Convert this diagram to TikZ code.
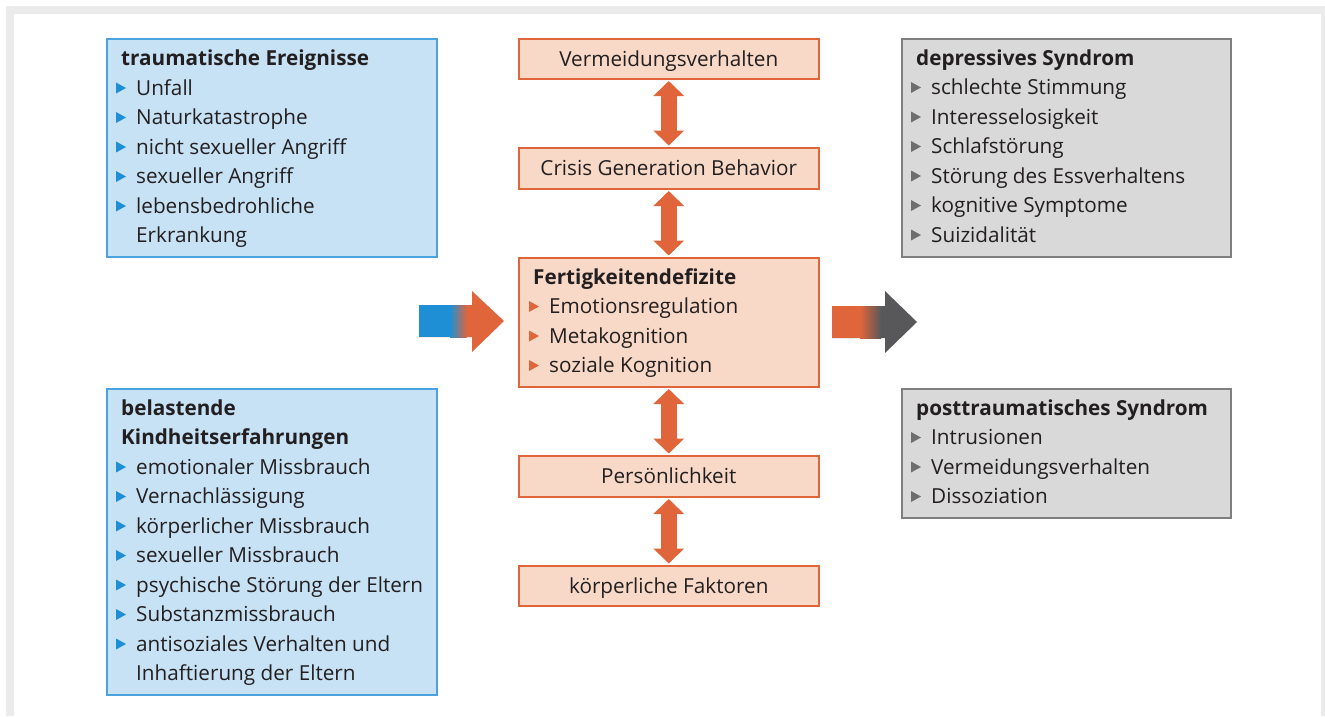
\documentclass[tikz,border=0pt]{standalone}
\usepackage{fontspec}
\setmainfont{Open Sans}
\usetikzlibrary{arrows.meta}
\definecolor{bfill}{HTML}{C7E1F5}
\definecolor{bline}{HTML}{4AA3DF}
\definecolor{bbul}{HTML}{1E8FD5}
\definecolor{ofill}{HTML}{F8D9C7}
\definecolor{oline}{HTML}{E0653A}
\definecolor{gfill}{HTML}{D9D9D9}
\definecolor{gline}{HTML}{7F7F7F}
\definecolor{gbul}{HTML}{6E6E6E}
\definecolor{darr}{HTML}{58585A}
\definecolor{framec}{HTML}{EBEBEB}
\definecolor{txtc}{HTML}{231F20}
\newcommand\bul[5]{%
  \fill[#4] (#2-20,#3-12.5) -- (#2-20,#3-1.5) -- (#2-10,#3-7) -- cycle;
  \node[txt,anchor=base west] (#1) at (#2,#3) {#5};}
\newcommand\ttl[4]{\node[txt,anchor=base west,font=\fontsize{20.7}{24}\selectfont\bfseries] (#1) at (#2,#3) {#4};}
\begin{document}
\begin{tikzpicture}[x=1pt,y=-1pt,
  txt/.style={inner sep=0pt,font=\fontsize{20.7}{24}\selectfont,text=txtc},
  bluebox/.style={draw=bline,fill=bfill,line width=1.5pt,anchor=north west,inner sep=0pt},
  orbox/.style={draw=oline,fill=ofill,line width=1.5pt,anchor=north west,inner sep=0pt,font=\fontsize{20.7}{24}\selectfont,text=txtc,text height=14.5pt,text depth=0pt},
  grbox/.style={draw=gline,fill=gfill,line width=1.5pt,anchor=north west,inner sep=0pt},
  dbl/.style={draw=oline,line width=16pt,{Triangle[width=30pt,length=15pt]}-{Triangle[width=30pt,length=15pt]},shorten <=1.5pt,shorten >=1.5pt}]
\useasboundingbox (0,0) rectangle (1325,716);
\fill[framec] (6,6) rectangle (1325,716);
\fill[white] (14,14) rectangle (1321,716);

% left boxes
\node[bluebox,minimum width=330pt,minimum height=218pt] (trauma) at (106,38) {};
\node[bluebox,minimum width=330pt,minimum height=306pt] (kind) at (106,388) {};
% center boxes
\node[orbox,minimum width=300pt,minimum height=40pt] (verm) at (518,38) {Vermeidungsverhalten};
\node[orbox,minimum width=300pt,minimum height=41pt] (crisis) at (518,147) {Crisis Generation Behavior};
\node[orbox,minimum width=300pt,minimum height=129pt] (fert) at (518,257) {};
\node[orbox,minimum width=300pt,minimum height=41pt] (pers) at (518,455) {Persönlichkeit};
\node[orbox,minimum width=300pt,minimum height=40pt] (koerp) at (518,565) {körperliche Faktoren};
% right boxes
\node[grbox,minimum width=329pt,minimum height=218pt] (depr) at (901,38) {};
\node[grbox,minimum width=329pt,minimum height=129pt] (ptbs) at (901,388) {};

% double arrows
\draw[dbl] (verm.south) -- (crisis.north);
\draw[dbl] (crisis.south) -- (fert.north);
\draw[dbl] (fert.south) -- (pers.north);
\draw[dbl] (pers.south) -- (koerp.north);

% left big arrow
\coordinate (la) at (419,321);
\fill[oline] (la) ++(0,-16) -- (472,305) -- (472,291) -- (504,321) -- (472,352) -- (472,337) -- (419,337) -- cycle;
\fill[bbul] (419,305) rectangle (451,337);
\shade[left color=bbul,right color=oline] (450,305) rectangle (467,337);
% right big arrow
\coordinate (ra) at (832,322);
\fill[darr] (ra) ++(0,-16) -- (885,306) -- (885,291) -- (917,322) -- (885,353) -- (885,338) -- (832,338) -- cycle;
\fill[oline] (832,306) rectangle (861,338);
\shade[left color=oline,right color=darr] (860,306) rectangle (881,338);

% texts left 1
\ttl{t1}{121}{65}{traumatische Ereignisse}
\bul{a1}{136}{95}{bbul}{Unfall}
\bul{a2}{136}{124.5}{bbul}{Naturkatastrophe}
\bul{a3}{136}{154}{bbul}{nicht sexueller Angriff}
\bul{a4}{136}{183.5}{bbul}{sexueller Angriff}
\bul{a5}{136}{213}{bbul}{lebensbedrohliche}
\node[txt,anchor=base west] (a6) at (136,242) {Erkrankung};
% texts left 2
\ttl{t2a}{121}{415}{belastende}
\ttl{t2b}{121}{444.5}{Kindheitserfahrungen}
\bul{b1}{136}{474}{bbul}{emotionaler Missbrauch}
\bul{b2}{136}{503.5}{bbul}{Vernachlässigung}
\bul{b3}{136}{533}{bbul}{körperlicher Missbrauch}
\bul{b4}{136}{562.5}{bbul}{sexueller Missbrauch}
\bul{b5}{136}{592}{bbul}{psychische Störung der Eltern}
\bul{b6}{136}{621.5}{bbul}{Substanzmissbrauch}
\bul{b7}{136}{651}{bbul}{antisoziales Verhalten und}
\node[txt,anchor=base west] (b8) at (136,680.5) {Inhaftierung der Eltern};
% center
\ttl{t3}{533}{284}{Fertigkeitendefizite}
\bul{c1}{549}{313.5}{oline}{Emotionsregulation}
\bul{c2}{549}{343}{oline}{Metakognition}
\bul{c3}{549}{372.5}{oline}{soziale Kognition}
% right 1
\ttl{t4}{916}{65}{depressives Syndrom}
\bul{d1}{931}{94.5}{gbul}{schlechte Stimmung}
\bul{d2}{931}{124}{gbul}{Interesselosigkeit}
\bul{d3}{931}{153.5}{gbul}{Schlafstörung}
\bul{d4}{931}{183}{gbul}{Störung des Essverhaltens}
\bul{d5}{931}{212.5}{gbul}{kognitive Symptome}
\bul{d6}{931}{242}{gbul}{Suizidalität}
% right 2
\ttl{t5}{916}{415}{posttraumatisches Syndrom}
\bul{e1}{931}{444.5}{gbul}{Intrusionen}
\bul{e2}{931}{474}{gbul}{Vermeidungsverhalten}
\bul{e3}{931}{503.5}{gbul}{Dissoziation}
\end{tikzpicture}
\end{document}
